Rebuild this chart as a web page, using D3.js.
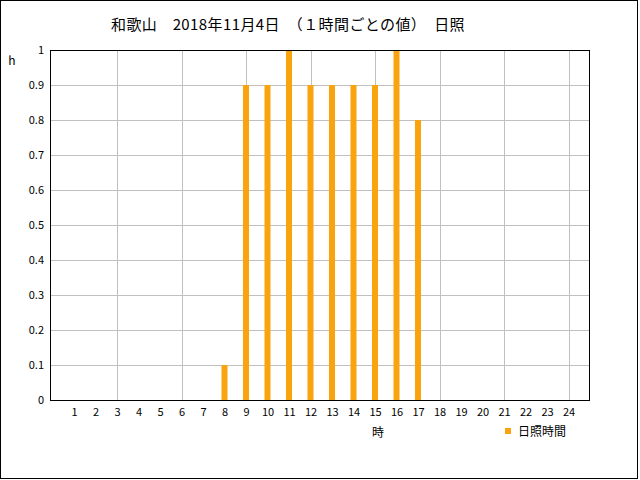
<!DOCTYPE html>
<html><head><meta charset="utf-8">
<script src="https://cdn.jsdelivr.net/npm/d3@7"></script>
<style>body{margin:0;background:#fff}</style>
</head><body>
<script>
const hours = d3.range(1, 25);
const sunshine = [0,0,0,0,0,0,0,0.1,0.9,0.9,1,0.9,0.9,0.9,0.9,1,0.8,0,0,0,0,0,0,0];
const yTicks = [0,0.1,0.2,0.3,0.4,0.5,0.6,0.7,0.8,0.9,1];
const titleText = "和歌山　2018年11月4日　（１時間ごとの値）　日照";
const seriesName = "日照時間";

const W = 640, H = 480;
const pL = 50, pR = 590, pT = 50, pB = 400;
const font = "'Noto Sans CJK JP', sans-serif";

const svg = d3.select("body").append("svg").attr("width", W).attr("height", H);
svg.append("rect").attr("x",0.5).attr("y",0.5).attr("width",637).attr("height",478)
  .attr("fill","#fff").attr("stroke","#000");

const x = d3.scaleLinear().domain([0, 25]).range([52.5, 590]);
const y = d3.scaleLinear().domain([0, 1]).range([pB, pT]);

// grid
svg.append("g").selectAll("line").data(yTicks.slice(1)).join("line")
  .attr("x1", pL).attr("x2", pR)
  .attr("y1", d => Math.round(y(d)) + 0.5).attr("y2", d => Math.round(y(d)) + 0.5)
  .attr("stroke", "#c0c0c0");
svg.append("g").selectAll("line").data(hours.filter(h => h % 3 === 0)).join("line")
  .attr("x1", d => Math.round(x(d)) + 0.5).attr("x2", d => Math.round(x(d)) + 0.5)
  .attr("y1", pT).attr("y2", pB)
  .attr("stroke", "#c0c0c0");

// bars
svg.append("g").selectAll("rect").data(hours).join("rect")
  .attr("x", (d) => x(d) - 3).attr("width", 6)
  .attr("y", (d,i) => y(sunshine[i]))
  .attr("height", (d,i) => y(0) - y(sunshine[i]))
  .attr("fill", "#f9a30e");

// frame
svg.append("rect").attr("x", pL + 0.5).attr("y", pT + 0.5)
  .attr("width", pR - pL - 1).attr("height", pB - pT)
  .attr("fill", "none").attr("stroke", "#000");

// y axis labels
const yAxis = d3.axisLeft(y).tickValues(yTicks).tickSize(0).tickPadding(0)
  .tickFormat(d => d3.format("")(+d.toFixed(1)));
const ga = svg.append("g").attr("transform", `translate(${pL - 6},0)`).call(yAxis);
ga.select(".domain").remove();
ga.selectAll("text").attr("font-family", font).attr("font-size", 11).attr("fill", "#000");

// x axis labels
const xAxis = d3.axisBottom(x).tickValues(hours).tickSize(0).tickPadding(0).tickFormat(d => d);
const gx = svg.append("g").attr("transform", `translate(0,${pB + 8})`).call(xAxis);
gx.select(".domain").remove();
gx.selectAll("text").attr("font-family", font).attr("font-size", 11).attr("fill", "#000");

// title
svg.append("text").attr("x", 288).attr("y", 30).attr("text-anchor", "middle")
  .attr("font-family", font).attr("font-size", 15).attr("letter-spacing", 0.4).text(titleText);
svg.append("text").attr("x", 12).attr("y", 65).attr("text-anchor", "middle")
  .attr("font-family", font).attr("font-size", 12).text("h");
svg.append("text").attr("x", 378).attr("y", 437).attr("text-anchor", "middle")
  .attr("font-family", font).attr("font-size", 12).text("時");

// legend
svg.append("rect").attr("x", 505).attr("y", 428).attr("width", 6).attr("height", 6).attr("fill", "#f9a30e");
svg.append("text").attr("x", 518).attr("y", 436).attr("font-family", font).attr("font-size", 12).text(seriesName);
</script>
</body></html>
